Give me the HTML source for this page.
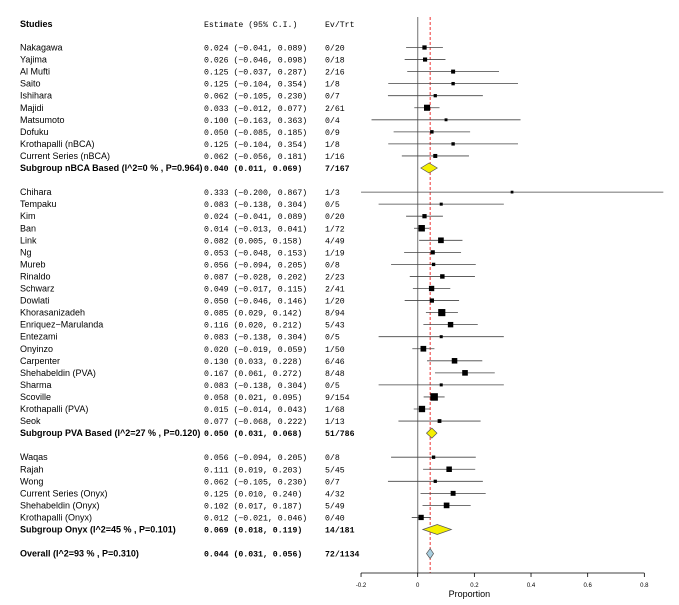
<!DOCTYPE html>
<html><head><meta charset="utf-8">
<style>
body{margin:0;background:#fff;}
svg{display:block;}
.nm{font-family:"Liberation Sans",sans-serif;font-size:9px;fill:#000;}
.mono{font-family:"Liberation Mono",monospace;font-size:8.2px;fill:#000;}
.b{font-weight:bold;}
.tk{font-family:"Liberation Sans",sans-serif;font-size:6px;fill:#000;}
</style></head>
<body>
<svg id="chart" width="679" height="605" viewBox="0 0 679 605"></svg>
<script>
const studies=["Nakagawa","Yajima","Al Mufti","Saito","Ishihara","Majidi","Matsumoto","Dofuku","Krothapalli (nBCA)","Current Series (nBCA)",
"Chihara","Tempaku","Kim","Ban","Link","Ng","Mureb","Rinaldo","Schwarz","Dowlati","Khorasanizadeh","Enriquez−Marulanda","Entezami","Onyinzo","Carpenter","Shehabeldin (PVA)","Sharma","Scoville","Krothapalli (PVA)","Seok",
"Waqas","Rajah","Wong","Current Series (Onyx)","Shehabeldin (Onyx)","Krothapalli (Onyx)"];
const est=[0.024,0.026,0.125,0.125,0.062,0.033,0.100,0.050,0.125,0.062,
0.333,0.083,0.024,0.014,0.082,0.053,0.056,0.087,0.049,0.050,0.085,0.116,0.083,0.020,0.130,0.167,0.083,0.058,0.015,0.077,
0.056,0.111,0.062,0.125,0.102,0.012];
const lo=[-0.041,-0.046,-0.037,-0.104,-0.105,-0.012,-0.163,-0.085,-0.104,-0.056,
-0.200,-0.138,-0.041,-0.013,0.005,-0.048,-0.094,-0.028,-0.017,-0.046,0.029,0.020,-0.138,-0.019,0.033,0.061,-0.138,0.021,-0.014,-0.068,
-0.094,0.019,-0.105,0.010,0.017,-0.021];
const hi=[0.089,0.098,0.287,0.354,0.230,0.077,0.363,0.185,0.354,0.181,
0.867,0.304,0.089,0.041,0.158,0.153,0.205,0.202,0.115,0.146,0.142,0.212,0.304,0.059,0.228,0.272,0.304,0.095,0.043,0.222,
0.205,0.203,0.230,0.240,0.187,0.046];
const events=[0,0,2,1,0,2,0,0,1,1, 1,0,0,1,4,1,0,2,2,1,8,5,0,1,6,8,0,9,1,1, 0,5,0,4,5,0];
const trials=[20,18,16,8,7,61,4,9,8,16, 3,5,20,72,49,19,8,23,41,20,94,43,5,50,46,48,5,154,68,13, 8,45,7,32,49,40];
const studyLine=[0,1,2,3,4,5,6,7,8,9, 12,13,14,15,16,17,18,19,20,21,22,23,24,25,26,27,28,29,30,31, 34,35,36,37,38,39];
const subNames=["Subgroup nBCA Based (I^2=0 % , P=0.964)","Subgroup PVA Based (I^2=27 % , P=0.120)","Subgroup Onyx (I^2=45 % , P=0.101)","Overall (I^2=93 % , P=0.310)"];
const subEst=[0.040,0.050,0.069,0.044];
const subLo=[0.011,0.031,0.018,0.031];
const subHi=[0.069,0.068,0.119,0.056];
const subEv=["7/167","51/786","14/181","72/1134"];
const subLine=[10,32,40,42];
const ticks=[-0.2,0,0.2,0.4,0.6,0.8];
const tickLabels=["-0.2","0","0.2","0.4","0.6","0.8"];
const pooled=0.044;

const NS="http://www.w3.org/2000/svg";
const svg=document.getElementById('chart');
const x=v=>417.7+283.3*v;
const y=l=>47.5+12.05*l;
function mk(t,a,txt){const e=document.createElementNS(NS,t);for(const k in a)e.setAttribute(k,a[k]);if(txt!==undefined)e.textContent=txt;svg.appendChild(e);return e;}
const f=v=>(v<0?"−":"")+Math.abs(v).toFixed(3);

let e;
e=mk('text',{x:20,y:27,class:'nm b'},'Studies');


e=mk('text',{x:204,y:27,class:'mono'},'Estimate (95% C.I.)');


e=mk('text',{x:325,y:27,class:'mono'},'Ev/Trt');



e=mk('line',{x1:x(0),x2:x(0),y1:17,y2:573,stroke:'#888','stroke-width':1.2});


e=mk('line',{x1:x(pooled),x2:x(pooled),y1:17,y2:573,stroke:'#e33','stroke-width':1,'stroke-dasharray':'3,2'});



studies.forEach((s,i)=>{
  const yy=y(studyLine[i]);
  e=mk('text',{x:20,y:yy+3,class:'nm'},s);
  
  
  e=mk('text',{x:204,y:yy+3,class:'mono'},f(est[i])+" ("+f(lo[i])+", "+f(hi[i])+")");
  
  
  e=mk('text',{x:325,y:yy+3,class:'mono'},events[i]+"/"+trials[i]);
  
  
  e=mk('line',{x1:x(lo[i]),x2:x(hi[i]),y1:yy,y2:yy,stroke:'#444','stroke-width':0.8});
  
  
  const sz=Math.max(2,Math.min(7.5,1.8+Math.sqrt(trials[i])*0.55));
  e=mk('rect',{x:x(est[i])-sz/2,y:yy-sz/2,width:sz,height:sz,fill:'#000'});
  
  
});

subNames.forEach((s,i)=>{
  const yy=y(subLine[i]);
  e=mk('text',{x:20,y:yy+3,class:'nm b'},s);
  
  
  e=mk('text',{x:204,y:yy+3,class:'mono b','xml:space':'preserve'},f(subEst[i])+"  ("+f(subLo[i])+", "+f(subHi[i])+")");
  
  
  e=mk('text',{x:325,y:yy+3,class:'mono b'},subEv[i]);
  
  
  const h=5;
  const pts=[[x(subLo[i]),yy],[x(subEst[i]),yy-h],[x(subHi[i]),yy],[x(subEst[i]),yy+h]].map(p=>p.join(',')).join(' ');
  e=mk('polygon',{points:pts,fill:i===3?'#a9cfe0':'#f5f000',stroke:'#555','stroke-width':0.7});
  
  
});

e=mk('line',{x1:x(-0.2),x2:x(0.8),y1:573,y2:573,stroke:'#000','stroke-width':0.8});


ticks.forEach((t,i)=>{
  e=mk('line',{x1:x(t),x2:x(t),y1:573,y2:577,stroke:'#000','stroke-width':0.8});
  
  
  e=mk('text',{x:x(t),y:587,class:'tk','text-anchor':'middle'},tickLabels[i]);
  
  
});
e=mk('text',{x:x(0.2)-5,y:597,class:'nm','text-anchor':'middle'},'Proportion');


</script>
</body></html>
